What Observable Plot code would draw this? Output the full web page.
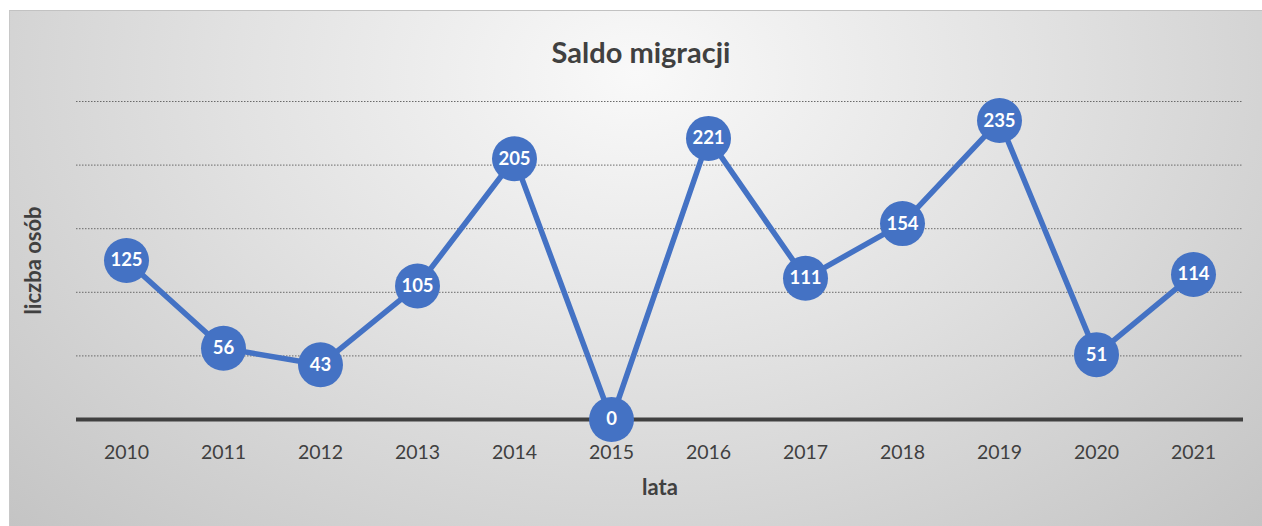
<!DOCTYPE html>
<html>
<head>
<meta charset="utf-8">
<script src="https://cdn.jsdelivr.net/npm/d3@7"></script>
<script src="https://cdn.jsdelivr.net/npm/@observablehq/plot@0.6"></script>
<style>
  html, body { margin: 0; padding: 0; background: #fff; }
  #wrap { position: relative; width: 1262px; height: 526px; overflow: hidden; font-family: Lato, "Open Sans", sans-serif; }
  #panel { position: absolute; left: 9px; top: 10px; width: 1253px; height: 516px;
    border-top: 1px solid #c2c2c2; border-left: 1px solid #c8c8c8; box-sizing: border-box;
    background: radial-gradient(ellipse farthest-corner at 50% 12%, #f9f9f9 0%, #e2e2e2 45%, #c4c4c4 100%); }
  #title { position: absolute; left: 0; width: 1282px; top: 34px; text-align: center;
    font: bold 29px Lato, "Open Sans", sans-serif; color: #404040; }
  #chart { position: absolute; left: 0; top: 0; }
</style>
</head>
<body>
<div id="wrap">
  <div id="panel"></div>
  <div id="chart"></div>
  <div id="title">Saldo migracji</div>
</div>
<script>
const years = ["2010","2011","2012","2013","2014","2015","2016","2017","2018","2019","2020","2021"];
const values = [125, 56, 43, 105, 205, 0, 221, 111, 154, 235, 51, 114];
const gridValues = [50, 100, 150, 200, 250];

const data = years.map((y, i) => ({year: y, value: values[i]}));

const chart = Plot.plot({
  width: 1262,
  height: 526,
  marginLeft: 76,
  marginRight: 19,
  marginTop: 101,
  marginBottom: 107,
  style: {background: "transparent", fontFamily: "Lato, 'Open Sans', sans-serif", color: "#404040"},
  x: {type: "point", domain: years, padding: 0.5, label: null},
  y: {domain: [0, 250], label: null, axis: null},
  marks: [
    Plot.ruleY(gridValues, {stroke: "#6a6a6a", strokeWidth: 1, strokeDasharray: "1.5,1.5"}),
    Plot.ruleY([0], {stroke: "#404040", strokeWidth: 4}),
    Plot.axisX({tickSize: 0, tickPadding: 26, fontSize: 19.5, fill: "#404040", label: null}),
    Plot.text(["lata"], {frameAnchor: "bottom", dy: 75, text: d => d, fontSize: 22, fontWeight: "bold", fill: "#404040"}),
    Plot.text(["liczba osób"], {frameAnchor: "left", textAnchor: "middle", dx: -43, rotate: -90, text: d => d, fontSize: 22, fontWeight: "bold", fill: "#404040"}),
    Plot.line(data, {x: "year", y: "value", stroke: "#4472C4", strokeWidth: 5.5, strokeLinejoin: "round"}),
    Plot.dot(data, {x: "year", y: "value", r: 22.5, fill: "#4472C4", stroke: "none"}),
    Plot.text(data, {x: "year", y: "value", text: d => String(d.value), fill: "white", fontSize: 18.5, fontWeight: "bold"})
  ]
});
document.getElementById("chart").appendChild(chart);
</script>
</body>
</html>
